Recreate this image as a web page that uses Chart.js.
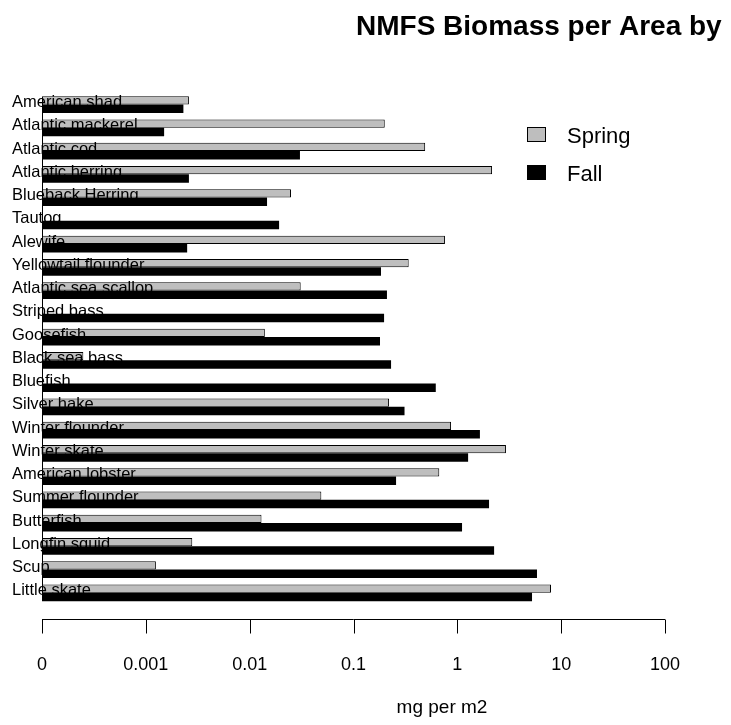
<!DOCTYPE html>
<html>
<head>
<meta charset="utf-8">
<script src="https://cdn.jsdelivr.net/npm/chart.js@4/dist/chart.umd.min.js"></script>
<style>
  body { margin: 0; background: #fff; }
  #wrap { width: 731px; height: 725px; }
</style>
</head>
<body>
<div id="wrap"><canvas id="chart" width="731" height="725"></canvas></div>
<script>
const categories = [
  "American shad", "Atlantic mackerel", "Atlantic cod", "Atlantic herring",
  "Blueback Herring", "Tautog", "Alewife", "Yellowtail flounder",
  "Atlantic sea scallop", "Striped bass", "Goosefish", "Black sea bass",
  "Bluefish", "Silver hake", "Winter flounder", "Winter skate",
  "American lobster", "Summer flounder", "Butterfish", "Longfin squid",
  "Scup", "Little skate"
];
const springValues = [
  0.0026, 0.2, 0.49, 2.16,
  0.025, null, 0.76, 0.34,
  0.031, null, 0.014, 0.00025,
  null, 0.22, 0.87, 2.94,
  0.67, 0.049, 0.013, 0.0028,
  0.00125, 7.98
];
const fallValues = [
  0.0023, 0.0015, 0.0305, 0.0026,
  0.0147, 0.0192, 0.0025, 0.184,
  0.21, 0.197, 0.18, 0.23,
  0.62, 0.31, 1.65, 1.27,
  0.257, 2.02, 1.11, 2.26,
  5.85, 5.24
];
const tickValues = [0.0001, 0.001, 0.01, 0.1, 1, 10, 100];
const tickLabels = ["0", "0.001", "0.01", "0.1", "1", "10", "100"];
const seriesNames = ["Spring", "Fall"];

const fontFamily = "'Liberation Sans', Arial, Helvetica, sans-serif";

// labels, title, legend and the detached x axis line, R style
const extras = {
  id: "extras",
  afterDatasetsDraw(chart) {
    let ctx = chart.ctx;
    let yScale = chart.scales.y;
    ctx.save();
    ctx.fillStyle = "#000";
    ctx.font = "16.5px " + fontFamily;
    ctx.textAlign = "left";
    ctx.textBaseline = "middle";
    for (let i = 0; i < categories.length; i++) {
      ctx.fillText(categories[i], 12, yScale.getPixelForValue(i) - 2);
    }
    ctx.restore();
  },
  afterDraw(chart) {
    let ctx = chart.ctx;
    let area = chart.chartArea;
    let xScale = chart.scales.x;
    ctx.save();

    // left edge line of the bars
    ctx.strokeStyle = "#000";
    ctx.lineWidth = 1;
    ctx.beginPath();
    ctx.moveTo(area.left + 0.5, area.top + 4);
    ctx.lineTo(area.left + 0.5, area.bottom - 4);
    ctx.stroke();

    // x axis
    let axisY = Math.round(area.bottom + 15) + 0.5;
    let x0 = xScale.getPixelForValue(tickValues[0]);
    let x1 = xScale.getPixelForValue(tickValues[tickValues.length - 1]);
    ctx.beginPath();
    ctx.moveTo(x0, axisY);
    ctx.lineTo(x1, axisY);
    for (let i = 0; i < tickValues.length; i++) {
      let x = Math.round(xScale.getPixelForValue(tickValues[i])) + 0.5;
      ctx.moveTo(x, axisY);
      ctx.lineTo(x, axisY + 14);
    }
    ctx.stroke();

    // axis title, centred on the wider R plot region
    ctx.fillStyle = "#000";
    ctx.font = "19px " + fontFamily;
    ctx.textAlign = "center";
    ctx.textBaseline = "middle";
    ctx.fillText("mg per m2", 442, 708);

    // title
    ctx.font = "bold 28px " + fontFamily;
    ctx.textAlign = "left";
    ctx.textBaseline = "alphabetic";
    ctx.fillText("NMFS Biomass per Area by", 356, 35);

    // legend
    let ds = chart.data.datasets;
    ctx.font = "22px " + fontFamily;
    let legendY = [127, 165];
    for (let i = 0; i < ds.length; i++) {
      ctx.fillStyle = ds[i].backgroundColor;
      ctx.fillRect(527, legendY[i], 18, 14);
      ctx.strokeStyle = "#000";
      ctx.lineWidth = 1;
      ctx.strokeRect(527.5, legendY[i] + 0.5, 18, 14);
      ctx.fillStyle = "#000";
      ctx.fillText(seriesNames[i], 567, legendY[i] + 16);
    }
    ctx.restore();
  }
};

let chart = new Chart(document.getElementById("chart"), {
  type: "bar",
  data: {
    labels: categories,
    datasets: [
      {
        label: seriesNames[0],
        data: springValues,
        backgroundColor: "#bebebe",
        borderColor: "#000",
        borderWidth: 1,
        borderSkipped: false,
        barPercentage: 1,
        categoryPercentage: 0.72
      },
      {
        label: seriesNames[1],
        data: fallValues,
        backgroundColor: "#000",
        borderColor: "#000",
        borderWidth: 0,
        barPercentage: 1,
        categoryPercentage: 0.72
      }
    ]
  },
  options: {
    indexAxis: "y",
    responsive: false,
    animation: false,
    layout: { padding: { top: 93, left: 42, right: 66, bottom: 41 } },
    plugins: {
      legend: { display: false },
      title: { display: false },
      tooltip: { enabled: false }
    },
    scales: {
      x: {
        type: "logarithmic",
        position: "bottom",
        min: 0.0001,
        max: 100,
        // invisible tick marks only reserve the gap above the labels
        grid: {
          display: true,
          drawOnChartArea: false,
          drawTicks: true,
          tickLength: 42,
          color: "rgba(0,0,0,0)"
        },
        border: { display: false },
        afterBuildTicks: scale => {
          scale.ticks = tickValues.map(v => ({ value: v }));
        },
        ticks: {
          padding: 8,
          autoSkip: false,
          maxRotation: 0,
          color: "#000",
          font: { family: fontFamily, size: 18 },
          callback: (value, index) => tickLabels[index]
        }
      },
      y: {
        display: false
      }
    }
  },
  plugins: [extras]
});
</script>
</body>
</html>
